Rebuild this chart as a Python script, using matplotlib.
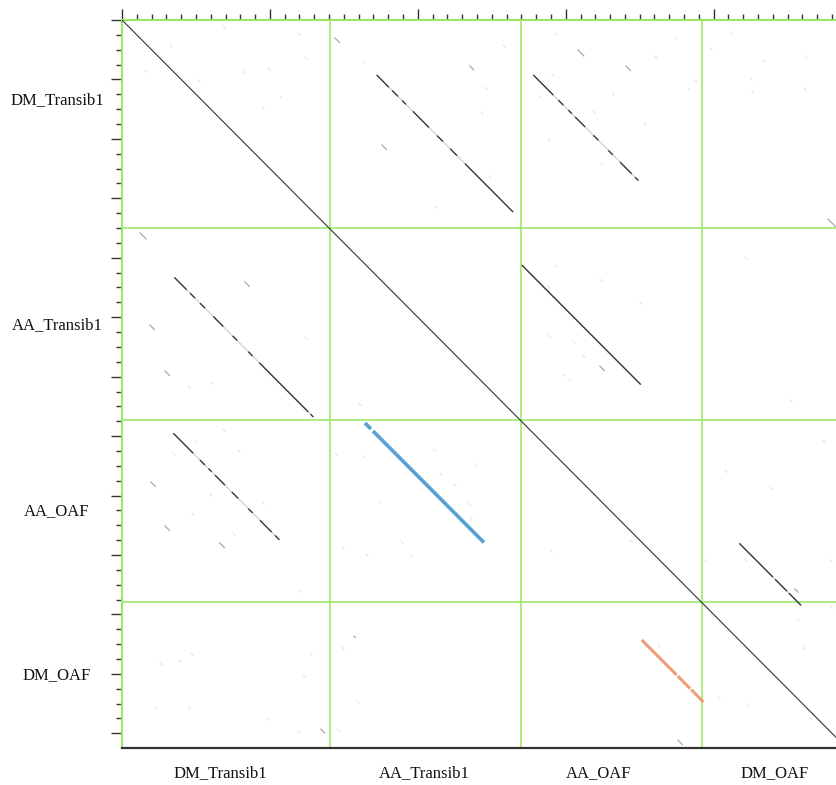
"""Self dotplot of four transposon sequences laid end to end."""

import matplotlib.pyplot as plt
from matplotlib.ticker import MultipleLocator

# sequence names and their boundaries along the concatenated axis (bp)
seq_names = ["DM_Transib1", "AA_Transib1", "AA_OAF", "DM_OAF"]
seq_bounds = [0, 1403, 2695, 3919, 4899]

# label anchors (bp) along the bottom and left sides
bottom_label_pos = [663, 2042, 3225, 4415]
left_label_pos = [538, 2052, 3304, 4408]

# similarity hits: start x, start y, then (from, to) offsets of each matching stretch
hit_dm1_aa1 = (1722, 370, [(0, 83), (104, 144), (171, 198), (245, 354), (408, 448), (496, 543), (597, 922)])
hit_dm1_aaoaf = (2781, 370, [(0, 135), (169, 203), (237, 260), (282, 350), (406, 440), (507, 537), (586, 665), (688, 710)])
hit_aa1_dm1 = (354, 1732, [(0, 83), (106, 140), (173, 207), (263, 331), (394, 425), (500, 529), (574, 906), (920, 939)])
hit_aa1_aaoaf = (2703, 1649, [(0, 804)])
hit_aaoaf_dm1 = (347, 2781, [(0, 135), (180, 214), (237, 259), (282, 349), (395, 439), (507, 536), (586, 665), (687, 717)])
hit_aaoaf_dmoaf = (4174, 3522, [(0, 227), (241, 322), (335, 417)])
gray_hits = [hit_dm1_aa1, hit_dm1_aaoaf, hit_aa1_dm1, hit_aa1_aaoaf, hit_aaoaf_dm1, hit_aaoaf_dmoaf]

# highlighted hits
blue_hit = (1643, 2712, [(0, 40), (54, 804)])
orange_hit = (3514, 4172, [(0, 236), (243, 327), (334, 417)])

# short word matches: x, y, length (bp)
short_x = [1440, 122, 4773, 3083, 3407, 2352, 1758, 831, 291, 189, 196, 291, 662, 3231, 1345, 3759, 1568, 4549]
short_y = [121, 1433, 1339, 202, 310, 310, 841, 1763, 2362, 2053, 3109, 3405, 3520, 2329, 4772, 4846, 4146, 3829]
short_len = [30, 40, 50, 40, 30, 25, 30, 30, 30, 30, 30, 30, 30, 30, 25, 30, 10, 20]

# background noise dots (bp)
noise_x = [683, 324, 155, 514, 987, 1237, 1068, 946, 1190, 1629, 818, 2927, 3738, 3603, 3873, 3826,
           4110, 4333, 4245, 4259, 4617, 4610, 2576, 3975, 466, 385, 257, 1271, 1224, 446, 223, 987,
           1190, 1460, 1589, 1487, 4225, 4029, 4604, 4651, 3623, 1602, 1440, 1629, 2109, 2150, 2380,
           2244, 1737, 2339, 2352, 1487, 1649, 1947, 1886, 2454, 2427, 2481, 2116, 2819, 2907, 3184,
           3529, 2880, 3238, 3312, 1237, 602, 446, 2927, 3231, 2880, 3502, 3049, 2880, 3116, 2981,
           3022, 493, 784, 683, 595, 946, 473, 750, 345, 4211, 4563, 4786, 4211, 4739, 4380, 2893,
           3941, 3434, 1203, 4786, 4076, 4516]
noise_y = [40, 168, 337, 404, 323, 249, 511, 585, 87, 276, 343, 87, 114, 242, 404, 458,
           81, 269, 390, 478, 242, 458, 168, 188, 4260, 4307, 4327, 4260, 4408, 4617, 4624, 4698,
           4785, 4772, 4583, 4220, 4603, 4556, 4220, 4691, 4206, 2578, 2914, 2934, 2887, 3049, 2988,
           3123, 3237, 3251, 3345, 3547, 3594, 3594, 3506, 451, 619, 1050, 1252, 511, 363, 612,
           693, 801, 962, 491, 2133, 2436, 2463, 1649, 1743, 1790, 1898, 2160, 2120, 2255, 2382,
           2416, 2827, 2894, 2753, 3190, 3244, 3318, 3452, 2914, 3627, 4031, 3944, 1595, 2827, 3143, 3567,
           3634, 3500, 3836, 3634, 3029, 2557]

GRID_GREEN = "#96e85f"
HIT_GRAY = "#3a3a3a"
LABEL_FONT = dict(family="Liberation Serif", size=12, color="#111111")


def draw_hit(ax, hit, color, lw, faint=None):
    x0, y0, pieces = hit
    if faint:
        # weak similarity between the strong stretches
        end = pieces[-1][1]
        ax.plot([x0, x0 + end], [y0, y0 + end], color=faint, lw=0.7, zorder=3)
    for a, b in pieces:
        ax.plot([x0 + a, x0 + b], [y0 + a, y0 + b], color=color, lw=lw,
                solid_capstyle="butt", zorder=4)


fig = plt.figure(figsize=(8.36, 7.85), dpi=100)
# the right end of the plot runs slightly past the figure edge
ax = fig.add_axes([122 / 836, 37 / 785, 724.6 / 836, 728 / 785])
total = seq_bounds[-1]
ax.set_xlim(0, total)
ax.set_ylim(total, 0)

# sequence boundaries
for b in seq_bounds[1:-1]:
    ax.axvline(b, color=GRID_GREEN, lw=1.1, zorder=1)
    ax.axhline(b, color=GRID_GREEN, lw=1.1, zorder=1)

# noise and short matches
for x, y in zip(noise_x, noise_y):
    ax.plot([x, x + 16], [y, y + 16], color="#e2e2e2", lw=0.7, zorder=2)
for x, y, n in zip(short_x, short_y, short_len):
    ax.plot([x, x + n], [y, y + n], color="#a8a8a8", lw=0.9, zorder=2)

# main diagonal (self match)
ax.plot([0, total], [0, total], color="#333333", lw=0.8, zorder=3)

for hit in gray_hits:
    draw_hit(ax, hit, HIT_GRAY, 1.0, faint="#c4c4c4")
draw_hit(ax, blue_hit, "#58a0d4", 2.6)
draw_hit(ax, orange_hit, "#ee9e7a", 2.2)

# frame: green top/left, dark bottom
ax.spines["top"].set_color(GRID_GREEN)
ax.spines["left"].set_color(GRID_GREEN)
ax.spines["top"].set_linewidth(1.4)
ax.spines["left"].set_linewidth(1.4)
ax.spines["bottom"].set_color("#333333")
ax.spines["bottom"].set_linewidth(1.6)
ax.spines["right"].set_visible(False)

ax.xaxis.tick_top()
ax.xaxis.set_major_locator(MultipleLocator(1000))
ax.xaxis.set_minor_locator(MultipleLocator(100))
ax.yaxis.set_major_locator(MultipleLocator(400))
ax.yaxis.set_minor_locator(MultipleLocator(100))
ax.tick_params(axis="x", which="major", length=8, width=1.0, color="#333333", labeltop=False)
ax.tick_params(axis="x", which="minor", length=4, width=1.0, color="#333333")
ax.tick_params(axis="y", which="major", length=8, width=1.0, color="#333333", labelleft=False)
ax.tick_params(axis="y", which="minor", length=4, width=1.0, color="#333333")

for name, x in zip(seq_names, bottom_label_pos):
    ax.text(x, -0.034, name, transform=ax.get_xaxis_transform(),
            ha="center", va="center", **LABEL_FONT)
for name, y in zip(seq_names, left_label_pos):
    ax.text(-0.0897, y, name, transform=ax.get_yaxis_transform(),
            ha="center", va="center", **LABEL_FONT)

fig.savefig("out.png", dpi=100)
plt.close(fig)
